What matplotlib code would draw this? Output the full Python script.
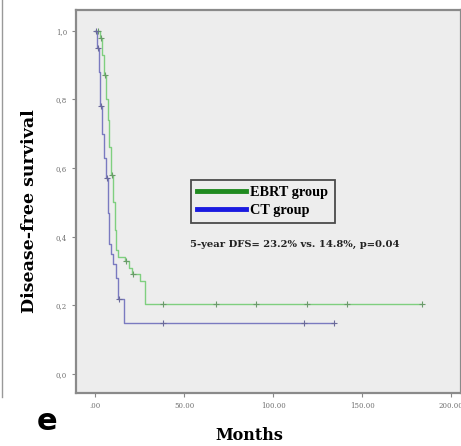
import matplotlib
matplotlib.use("Agg")
import matplotlib.pyplot as plt
from matplotlib.lines import Line2D

# Kaplan-Meier steps, EBRT group
ebrt_t = [0, 2.5, 4, 5, 6, 7, 8, 9, 10, 11, 12, 13, 17, 19, 21, 25, 28, 183.7]
ebrt_s = [1.0, 0.98, 0.93, 0.87, 0.80, 0.74, 0.66, 0.58, 0.50, 0.42, 0.36, 0.34, 0.33, 0.31, 0.29, 0.27, 0.204, 0.204]
ebrt_cens_t = [1.5, 3.5, 5.5, 9.5, 17.5, 21.5, 38, 68, 90.4, 119, 141.6, 183.7]
ebrt_cens_s = [1.0, 0.98, 0.87, 0.58, 0.33, 0.29, 0.204, 0.204, 0.204, 0.204, 0.204, 0.204]

# Kaplan-Meier steps, CT group
ct_t = [0, 1, 2, 3, 4, 5, 6, 7, 8, 9, 10, 12, 13, 16, 134]
ct_s = [1.0, 0.95, 0.88, 0.78, 0.70, 0.63, 0.57, 0.47, 0.38, 0.35, 0.32, 0.28, 0.22, 0.148, 0.148]
ct_cens_t = [0.5, 1.5, 3.5, 6.5, 13.5, 38, 117.5, 134]
ct_cens_s = [1.0, 0.95, 0.78, 0.57, 0.22, 0.148, 0.148, 0.148]

y_ticks = [0.0, 0.2, 0.4, 0.6, 0.8, 1.0]
y_labels = ["0,0", "0,2", "0,4", "0,6", "0,8", "1,0"]
x_ticks = [0, 50, 100, 150, 200]
x_labels = [".00", "50.00", "100.00", "150.00", "200.00"]

green_line = "#7fcf7f"
blue_line = "#7a7ac0"

fig = plt.figure(figsize=(4.61, 4.46), dpi=100)
ax = fig.add_axes([0.165, 0.119, 0.835, 0.859])
ax.set_facecolor("#ededed")

ax.step(ebrt_t, ebrt_s, where="post", color=green_line, lw=1.0)
ax.step(ct_t, ct_s, where="post", color=blue_line, lw=1.0)
ax.plot(ebrt_cens_t, ebrt_cens_s, "+", color="#6a9a6a", ms=4, mew=0.8)
ax.plot(ct_cens_t, ct_cens_s, "+", color="#6a6a9a", ms=4, mew=0.8)

ax.set_xlim(-10.7, 205.6)
ax.set_ylim(-0.055, 1.061)
ax.set_yticks(y_ticks)
ax.set_yticklabels(y_labels)
ax.set_xticks(x_ticks)
ax.set_xticklabels(x_labels)
ax.tick_params(labelsize=5, labelcolor="#707070", color="#888888", length=3, width=0.8)
for lab in ax.get_xticklabels() + ax.get_yticklabels():
    lab.set_family("DejaVu Serif")

for sp in ax.spines.values():
    sp.set_color("#8a8a8a")
    sp.set_linewidth(1.6)

ax.set_ylabel("Disease-free survival", family="DejaVu Serif", fontweight="bold",
              fontsize=12.5)
ax.yaxis.set_label_coords(-0.1, 0.475)
ax.set_xlabel("Months", family="DejaVu Serif", fontweight="bold", fontsize=11.5)
ax.xaxis.set_label_coords(0.45, -0.09)

handles = [Line2D([], [], color="#1f8a1f", lw=3.5), Line2D([], [], color="#1a1ae0", lw=3.5)]
leg = ax.legend(handles, ["EBRT group", "CT group"], loc="upper left",
                bbox_to_anchor=(0.28, 0.575), frameon=True, fancybox=False,
                handlelength=3.4, handletextpad=0.3, borderpad=0.45, labelspacing=0.3,
                prop={"family": "Liberation Serif", "weight": "bold", "size": 10.3})
leg.get_frame().set_edgecolor("#222222")
leg.get_frame().set_linewidth(1.3)
leg.get_frame().set_facecolor("#ededed")

ax.text(0.297, 0.38, "5-year DFS= 23.2% vs. 14.8%, p=0.04", transform=ax.transAxes,
        family="DejaVu Serif", fontweight="bold", fontsize=7.2, color="#222222")

fig.text(0.08, 0.035, "e", fontsize=22, fontweight="bold", family="DejaVu Sans")
fig.add_artist(Line2D([0.004, 0.004], [0.11, 1.0], color="#999999", lw=1.0))

fig.savefig("out.png", dpi=100)
